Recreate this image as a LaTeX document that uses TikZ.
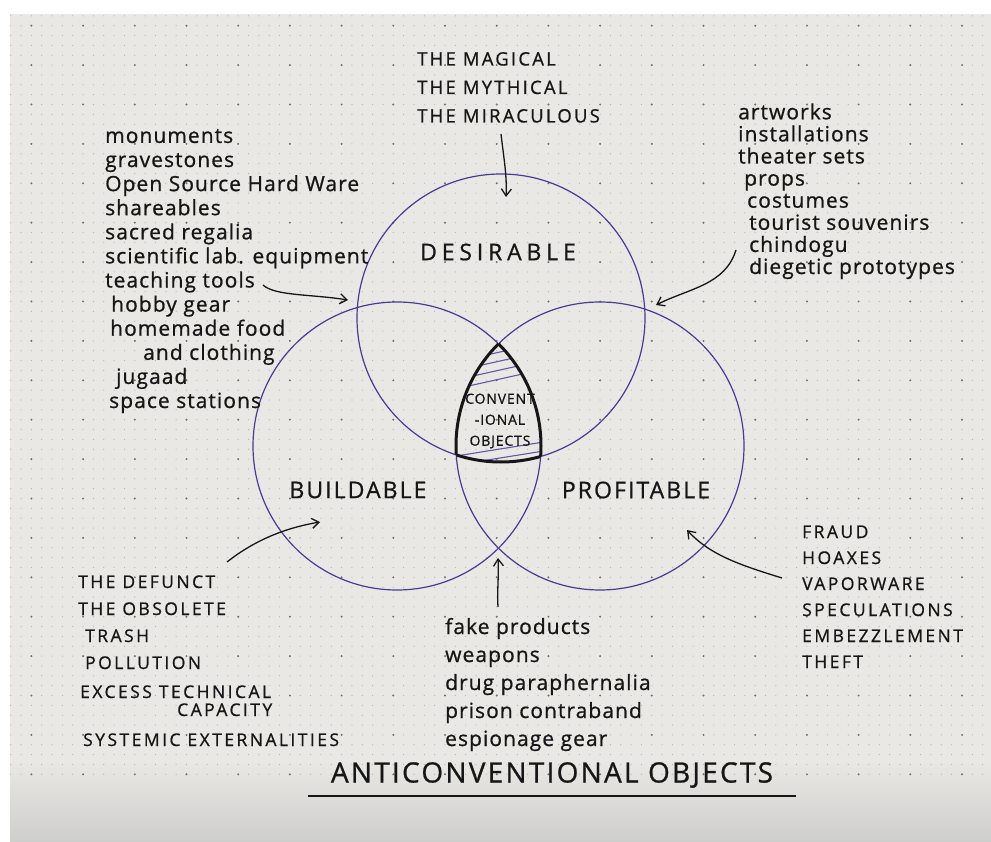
\documentclass[tikz,border=0pt]{standalone}
\usepackage{fontspec}
\setmainfont{Open Sans}[LetterSpace=5, FakeBold=0.8]
\newfontfamily\handcaps{Open Sans}[LetterSpace=14, FakeBold=0.8]
\usetikzlibrary{arrows.meta, positioning}

\definecolor{paper}{RGB}{233,232,228}
\definecolor{paperlow}{RGB}{206,206,205}
\definecolor{ink}{RGB}{22,22,24}
\definecolor{pen}{RGB}{70,60,150}
\definecolor{dotlight}{RGB}{180,179,176}
\definecolor{dotdark}{RGB}{110,110,108}

\begin{document}
\begin{tikzpicture}[x=1pt, y=-1pt,
    every node/.style={inner sep=0pt, text=ink},
    set/.style={circle, draw=pen, line width=1.2pt, minimum size=288pt},
    setname/.style={font=\handcaps\addfontfeature{LetterSpace=9}\fontsize{23}{23}\selectfont},
    hand/.style={anchor=base west, align=left},
    caps/.style={anchor=base west, align=left},
    arr/.style={draw=ink, line width=1.3pt, -{Straight Barb[length=7pt, width=10pt]}}]
  \tikzset{hatch/.style={draw=pen!85, line width=1.1pt},
           core/.style={draw=ink, line width=3pt, line join=round}}

  % sheet of dotted paper
  \fill[white] (0,0) rectangle (991,842);
  \useasboundingbox (0,0) rectangle (991,842);
  \fill[paper] (10,14) rectangle (991,760);
  \shade[top color=paper, bottom color=paperlow] (10,760) rectangle (991,842);
  \foreach \j in {0,...,77}
    \fill[dotlight] \foreach \i in {0,...,94} {(10.7+10.34*\i, 15.85+9.85*\j) circle (0.6pt)};
  \foreach \j in {0,...,19}
    \fill[dotdark] \foreach \i in {0,...,18} {(31.4+51.7*\i, 25.7+39.4*\j) circle (1.1pt)};

  % the three sets
  \node[set] (des) at (501,318) {};
  \node[set] (bui) at (397,446) {};
  \node[set] (pro) at (600,446) {};
  \node[setname, font=\handcaps\addfontfeature{LetterSpace=21}\fontsize{23}{23}\selectfont] (desname) at (498,252) {DESIRABLE};
  \node[setname] (buiname) at (358,490) {BUILDABLE};
  \node[setname] (proname) at (636,490) {PROFITABLE};

  % conventional objects: where all three meet
  \begin{scope}
    \clip (des.center) circle (144pt);
    \clip (bui.center) circle (144pt);
    \clip (pro.center) circle (144pt);
    \foreach \h in {356,365,374,383} \draw[hatch] (455,\h+6) -- (545,\h-14);
    \foreach \h in {453,462} \draw[hatch] (450,\h+4) -- (550,\h-12);
  \end{scope}
  \begin{scope}
    \clip (bui.center) circle (144pt); \clip (pro.center) circle (144pt);
    \draw[core] (des.center) circle (144pt);
  \end{scope}
  \begin{scope}
    \clip (des.center) circle (144pt); \clip (pro.center) circle (144pt);
    \draw[core] (bui.center) circle (144pt);
  \end{scope}
  \begin{scope}
    \clip (des.center) circle (144pt); \clip (bui.center) circle (144pt);
    \draw[core] (pro.center) circle (144pt);
  \end{scope}
  \node[align=center, font=\handcaps\addfontfeature{LetterSpace=6}\fontsize{14}{21}\selectfont] (coretxt) at (500,421) {CONVENT\\-IONAL\\OBJECTS};

  % what sits outside the core (each list hangs from its last baseline)
  \node[caps, font=\handcaps\addfontfeature{LetterSpace=12}\fontsize{18.5}{28.5}\selectfont] (magic) at (417,122.5)
    {THE MAGICAL\\THE MYTHICAL\\THE MIRACULOUS};
  \node[hand, font=\fontsize{21}{24.1}\selectfont] (nonprofit) at (105,408)
    {monuments\\gravestones\\Open Source Hard Ware\\shareables\\sacred regalia\\scientific lab. equipment\\teaching tools\\
     \hspace*{6pt}hobby gear\\\hspace*{5pt}homemade food\\\hspace*{38pt}and clothing\\\hspace*{11pt}jugaad\\\hspace*{4pt}space stations};
  \node[hand, font=\fontsize{21}{22.1}\selectfont] (arts) at (738,274)
    {artworks\\installations\\theater sets\\\hspace*{6pt}props\\\hspace*{9pt}costumes\\\hspace*{11pt}tourist souvenirs\\\hspace*{11pt}chindogu\\\hspace*{11pt}diegetic prototypes};
  \node[caps, font=\handcaps\fontsize{17.5}{27}\selectfont] (junk) at (78,746)
    {THE DEFUNCT\\THE OBSOLETE\\\hspace*{7pt}TRASH\\\hspace*{7pt}POLLUTION\\[2pt]
     \hspace*{2pt}EXCESS TECHNICAL\\[-9pt]\hspace*{99pt}CAPACITY\\[3pt]\hspace*{5pt}SYSTEMIC EXTERNALITIES};
  \node[hand, font=\fontsize{21}{28}\selectfont] (illicit) at (445,746)
    {fake products\\weapons\\drug paraphernalia\\prison contraband\\espionage gear};
  \node[caps, font=\handcaps\fontsize{17.5}{26}\selectfont] (scams) at (802,668)
    {FRAUD\\HOAXES\\VAPORWARE\\SPECULATIONS\\EMBEZZLEMENT\\THEFT};

  \node[font=\handcaps\addfontfeature{LetterSpace=8}\fontsize{28}{28}\selectfont] (title) at (552,775) {ANTICONVENTIONAL OBJECTS};
  \draw[ink, line width=1.8pt] ([shift={(-23,8)}]title.south west) -- ([shift={(23,8)}]title.south east);

  % arrows into the regions
  \coordinate (fromMagic) at (501,134);  \coordinate (toDes) at (506,197);
  \coordinate (fromTeach) at (263,285);  \coordinate (toDesBui) at (348,300);
  \coordinate (fromArts) at (736,250);   \coordinate (toDesPro) at (656,305);
  \coordinate (fromJunk) at (227,562);   \coordinate (toBui) at (320,522);
  \coordinate (fromFake) at (498,607);   \coordinate (toBuiPro) at (498,558);
  \coordinate (fromFraud) at (782,578);  \coordinate (toPro) at (687,530);
  \draw[arr] (fromMagic) .. controls (504,160) and (507,175) .. (toDes);
  \draw[arr] (fromTeach) .. controls (275,296) and (310,294) .. (toDesBui);
  \draw[arr] (fromArts) .. controls (725,285) and (690,288) .. (toDesPro);
  \draw[arr] (fromJunk) .. controls (255,540) and (285,528) .. (toBui);
  \draw[arr] (fromFake) .. controls (497,590) and (499,575) .. (toBuiPro);
  \draw[arr] (fromFraud) .. controls (740,565) and (710,555) .. (toPro);
\end{tikzpicture}
\end{document}
